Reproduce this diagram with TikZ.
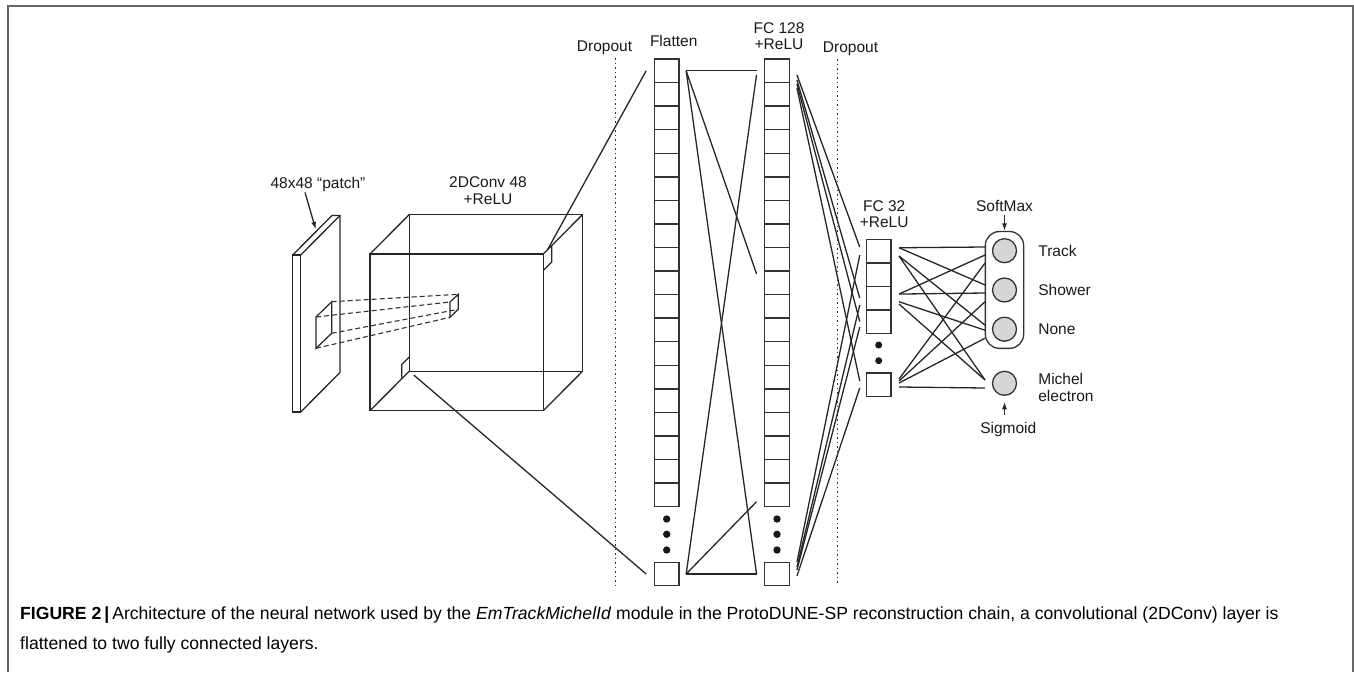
\documentclass[tikz,border=0pt]{standalone}
\usepackage{fontspec}
\setmainfont{Liberation Sans}
\usetikzlibrary{positioning,arrows.meta,fit,calc}

\begin{document}
\begin{tikzpicture}[x=1pt, y=-1pt,
    lbl/.style={font=\fontsize{15.5}{16.8}\selectfont, inner sep=0pt, align=center, text=black!90},
    cell/.style={draw=black!80, line width=1.4pt, minimum width=24.5pt, minimum height=23.56pt, inner sep=0pt},
    link/.style={line width=1.3pt, draw=black!85},
    unit/.style={circle, draw=black!80, line width=1.3pt, fill=gray!32, minimum size=24pt, inner sep=0pt},
    dotsep/.style={line width=1.4pt, draw=black!80, dash pattern=on 1.5pt off 3pt},
    proj/.style={line width=1.1pt, draw=black!80, dash pattern=on 5pt off 3pt},
    face/.style={draw=black!85, line width=1.3pt, inner sep=0pt, outer sep=0pt, minimum width=173.3pt, minimum height=156.7pt},
    slab/.style={inner sep=0pt, outer sep=0pt, minimum width=8pt, minimum height=157pt},
    tip/.style={-{Latex[length=7.5pt,width=5pt]}}
]
    \useasboundingbox (0,0) rectangle (1354,672);
    % frame
    \draw[black!60, line width=1.5pt] (8,672) |- (1353,6) -- (1353,672);

    % input patch
    \node[slab, draw=black!85, line width=1.3pt] (pf) at (296.7,333.5) {};
    \node[slab] (pb) at ([xshift=39.3pt,yshift=39.5pt]pf.center) {};
    \draw[black!85, line width=1.3pt] (pf.north west) -- (pb.north west) -- (pb.north east) -- (pb.south east) -- (pf.south east);
    \draw[black!85, line width=1.3pt] (pf.north east) -- (pb.north east);
    \node[lbl, anchor=base] (lpatch) at (318,188) {48x48 “patch”};
    \coordinate (ptip) at ($(pf.north west)!0.6!(pb.north west)$);
    \draw[link, tip, shorten >=2pt] ([xshift=-13pt,yshift=-1pt]lpatch.south) -- (ptip);

    % conv block
    \node[face] (front) at (456.65,332.35) {};
    \node[face] (back) at ([xshift=39.3pt,yshift=39.5pt]front.center) {};
    \foreach \a in {north east, north west, south east, south west}
        \draw[black!85, line width=1.3pt] (front.\a) -- (back.\a);
    \node[lbl, anchor=south] (lconv) at (488,205) {2DConv 48\\+ReLU};

    % kernel and its projection
    \coordinate (ka) at (316,317);   \coordinate (kb) at (331.7,301.7);
    \coordinate (kc) at (331.7,333.3); \coordinate (kd) at (316,348.3);
    \coordinate (ta) at (450,302);   \coordinate (tb) at (458.3,294.3);
    \coordinate (tc) at (458.3,309.3); \coordinate (td) at (450,317.3);
    \draw[black!85, line width=1.2pt] (ka) -- (kb) -- (kc) -- (kd) -- cycle;
    \draw[black!85, line width=1.2pt] (ta) -- (tb) -- (tc) -- (td) -- cycle;
    \foreach \c in {a,b,c,d}
        \draw[proj] (k\c) -- (t\c);

    % small faces on the block
    \coordinate (crA) at (551.7,245.5);
    \coordinate (crB) at (551.7,262);
    \coordinate (crC) at (543.3,270.5);
    \draw[black!85, line width=1.2pt] (crA) -- (crB) -- (crC);
    \coordinate (blA) at (409.3,357);
    \coordinate (blB) at (401.7,364.6);
    \coordinate (blC) at (401.7,378.8);
    \draw[black!85, line width=1.2pt] (blA) -- (blB) -- (blC);

    % dropout
    \draw[dotsep] (615.7,58) -- (615.7,585);
    \draw[dotsep] (837.3,59) -- (837.3,585);
    \node[lbl, anchor=base] (ldrop1) at (604.5,51) {Dropout};
    \node[lbl, anchor=base] (ldrop2) at (850.5,52) {Dropout};

    % Flatten column
    \foreach \i in {1,...,19}
        \node[cell] (fl\i) at (666.7,{47.22+23.56*\i}) {};
    \foreach \y in {519,534.3,550}
        \fill[black!90] (666.7,\y) circle (3.7pt);
    \node[cell] (fll) at (666.7,574) {};
    \node[lbl, above=11pt of fl1, xshift=7pt] (lflat) {Flatten};

    % FC 128 column
    \foreach \i in {1,...,19}
        \node[cell] (fc\i) at (777,{47.22+23.56*\i}) {};
    \foreach \y in {519,534.3,550}
        \fill[black!90] (777,\y) circle (3.7pt);
    \node[cell] (fcl) at (777,574) {};
    \node[lbl, above=8pt of fc1, xshift=2pt] (lfc128) {FC 128\\+ReLU};

    % FC 32 column
    \foreach \i in {1,...,4}
        \node[cell, minimum height=23.5pt] (h\i) at (878.7,{227.55+23.5*\i}) {};
    \foreach \y in {345,360.7}
        \fill[black!90] (878.7,\y) circle (3.5pt);
    \node[cell] (hl) at (878.7,384.7) {};
    \node[lbl, above=10.4pt of h1, xshift=5.5pt] (lfc32) {FC 32\\+ReLU};

    % outputs
    \node[unit] (track) at (1004.5,250.7) {};
    \node[unit] (shower) at (1004.5,290) {};
    \node[unit] (none) at (1004.5,329.2) {};
    \node[unit] (michel) at (1004.5,383.3) {};
    \node[draw=black!80, line width=1.3pt, rounded corners=14pt, fit=(track)(none), inner xsep=6.5pt, inner ysep=6.5pt] (soft) {};
    \node[lbl, right=21pt of track] (ltrack) {Track};
    \node[lbl, right=21pt of shower] (lshower) {Shower};
    \node[lbl, right=21pt of none] (lnone) {None};
    \node[lbl, align=left, right=21pt of michel, yshift=-4pt] (lmichel) {Michel\\electron};
    \node[lbl, above=19pt of soft] (lsoft) {SoftMax};
    \draw[link, tip] ([yshift=-3.3pt]lsoft.south) -- (soft.north);
    \node[lbl, below=26pt of michel, xshift=3.8pt] (lsig) {Sigmoid};
    \coordinate (sigtop) at (lsig.north -| michel.south);
    \draw[link, tip] ([yshift=6.9pt]sigtop) -- ([yshift=-5.8pt]michel.south);

    % block to Flatten
    \draw[link] ($(front.north east)!0.5!(crA)$) -- ([xshift=-7.6pt]fl1.west);
    \draw[link, shorten <=6pt] (back.south west) -- ([xshift=-7.6pt]fll.west);

    % Flatten to FC 128
    \foreach \s/\t/\b in {fl1/fc1/0pt, fl1/fcl/0pt, fl1/fc10/9pt, fll/fcl/0pt, fll/fc1/-4pt, fll/fc19/-6.8pt}
        \draw[link] ([xshift=6.5pt]\s.east) -- ([xshift=-7.5pt,yshift=\b]\t.west);

    % FC 128 to FC 32
    \foreach \s/\t/\a/\b in {fc1/h1/-4.2pt/4pt, fc1/h3/-9.2pt/0pt, fc1/h4/-13.2pt/0pt, fc1/hl/-17.2pt/3.7pt,
                             fcl/h1/12pt/-4pt, fcl/h3/7pt/-7pt, fcl/h4/4pt/-5.5pt, fcl/hl/-2pt/-3.3pt}
        \draw[link] ([xshift=7pt,yshift=\a]\s.east) -- ([xshift=-6pt,yshift=\b]\t.west);

    % FC 32 to outputs
    \foreach \s/\t/\a/\b in {h1/track/3.3pt/3.7pt, h1/shower/3.3pt/5pt, h1/none/-5pt/4pt, h1/michel/-5pt/3.3pt,
                             h3/track/4pt/-4.3pt, h3/shower/4pt/-3pt, h3/none/-3.7pt/-1pt, h3/michel/-6pt/3.3pt,
                             hl/track/5.7pt/-12.3pt, hl/shower/3.7pt/-11.7pt, hl/none/1.7pt/-9pt, hl/michel/-2.3pt/-4.7pt}
        \draw[link] ([xshift=7.4pt,yshift=\a]\s.east) -- ([xshift=-6.8pt,yshift=\b]\t.west);

    % caption
    \node[anchor=base west, inner sep=0pt, font=\fontsize{17.6}{21}\selectfont] (cap1) at (20,619)
        {\textbf{FIGURE 2}\hspace{3pt}\textbf{|}\hspace{3pt}Architecture of the neural network used by the \textit{EmTrackMichelId} module in the ProtoDUNE-SP reconstruction chain, a convolutional (2DConv) layer is};
    \node[anchor=base west, inner sep=0pt, font=\fontsize{17.6}{21}\selectfont] (cap2) at (20,649)
        {flattened to two fully connected layers.};
\end{tikzpicture}
\end{document}
